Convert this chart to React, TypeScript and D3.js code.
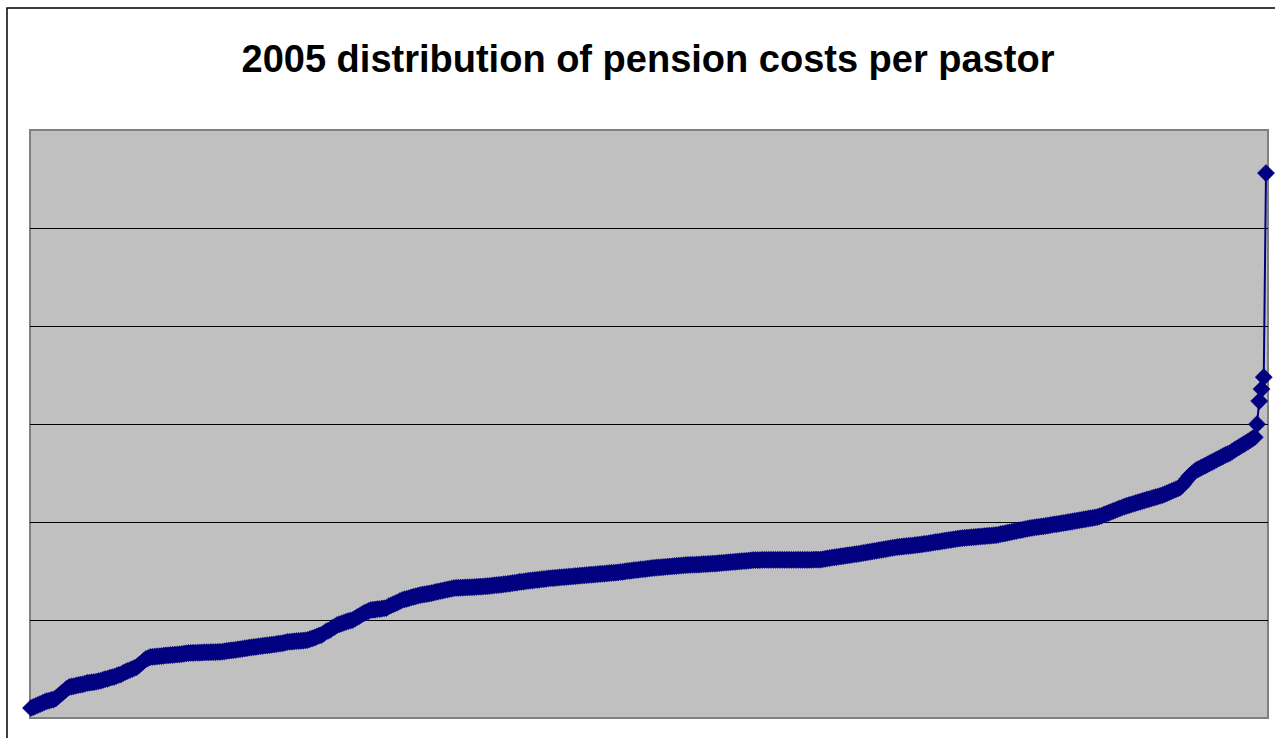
import { useEffect, useRef } from 'react'
import * as d3 from 'd3'

const chartTitle = '2005 distribution of pension costs per pastor'

// annual pension cost per pastor, sorted ascending (one value per pastor)
const pensionCosts = [
  510, 560, 610, 660, 710, 760, 810, 860, 880, 920, 940,
  1000, 1100, 1200, 1300, 1400, 1500, 1580,
  1600, 1620, 1650, 1680, 1700, 1720, 1750, 1790,
  1800, 1820, 1830, 1850, 1880, 1900, 1940,
  1980, 2000, 2050, 2080, 2100, 2150, 2200, 2220,
  2300, 2350, 2400, 2450, 2500, 2550, 2600,
  2700, 2800, 2900, 3000, 3050, 3110,
  3120, 3130, 3140, 3150, 3160, 3180, 3190, 3200, 3210,
  3220, 3230, 3240, 3250, 3260, 3280, 3300, 3310,
  3320, 3320, 3330, 3330, 3340, 3340, 3350, 3350, 3350, 3360, 3360, 3360, 3370, 3370,
  3380, 3400, 3420, 3440, 3450, 3460, 3480, 3500, 3510, 3530, 3550, 3570, 3590, 3600, 3620,
  3630, 3650, 3660, 3680, 3700, 3710, 3720, 3740, 3750, 3770, 3790, 3800, 3820, 3850, 3880,
  3890, 3900, 3910, 3920, 3930, 3940, 3950, 3960, 3980,
  4020, 4060, 4100, 4150, 4200, 4230,
  4300, 4400, 4450, 4500, 4600, 4650, 4740,
  4780, 4820, 4860, 4900, 4940, 4970, 5000,
  5070, 5150, 5200, 5280, 5350, 5400, 5450, 5510,
  5520, 5530, 5550, 5560, 5580, 5600, 5610,
  5700, 5750, 5800, 5850, 5900, 5960, 6020,
  6050, 6080, 6110, 6150, 6180, 6210, 6240, 6270,
  6290, 6310, 6330, 6350, 6370, 6400, 6430,
  6450, 6480, 6500, 6530, 6550, 6580, 6600, 6630,
  6640, 6640, 6650, 6650, 6660, 6660, 6670, 6670, 6680, 6690, 6700, 6700, 6710, 6720, 6730,
  6740, 6750, 6770, 6780, 6790, 6800, 6820, 6830, 6850, 6860, 6880, 6900, 6910, 6940,
  6950, 6960, 6980, 7000, 7010, 7020, 7040, 7050, 7060, 7080, 7090, 7100, 7120, 7130, 7140,
  7150, 7160, 7170, 7180, 7190, 7200, 7210, 7220, 7230, 7240, 7250, 7260, 7270, 7280, 7290,
  7300, 7310, 7320, 7330, 7340, 7350, 7360, 7370, 7380, 7390, 7400, 7410, 7420, 7430, 7450,
  7460, 7480, 7500, 7510, 7520, 7540, 7550, 7560, 7580, 7590, 7600, 7620, 7630, 7650,
  7660, 7670, 7680, 7690, 7700, 7710, 7720, 7730, 7740, 7750, 7760, 7770, 7780, 7790, 7800,
  7810, 7810, 7820, 7820, 7830, 7830, 7840, 7850, 7850, 7860, 7870, 7880, 7880, 7890, 7900,
  7910, 7920, 7930, 7940, 7950, 7960, 7970, 7980, 7990, 8000, 8010, 8020, 8030, 8040, 8060,
  8060, 8060, 8060, 8070, 8070, 8070, 8070, 8070, 8070, 8070, 8070, 8070, 8070, 8070, 8070,
  8070, 8070, 8070, 8070, 8070, 8070, 8070, 8070, 8070, 8070, 8070, 8080, 8080, 8080, 8080,
  8100, 8120, 8140, 8160, 8180, 8200, 8210,
  8230, 8250, 8260, 8280, 8300, 8310, 8330, 8350, 8360, 8380, 8400, 8420,
  8440, 8460, 8480, 8500, 8520, 8540, 8560, 8580, 8600, 8620, 8640, 8660, 8680, 8700, 8720,
  8730, 8740, 8760, 8770, 8780, 8790, 8800, 8820, 8830, 8850, 8860, 8880, 8890, 8910, 8930,
  8950, 8970, 8990, 9000, 9020, 9040, 9060, 9080, 9090, 9110, 9130, 9150, 9160, 9180,
  9190, 9200, 9210, 9220, 9230, 9240, 9250, 9260, 9270, 9280, 9290, 9300, 9310, 9320, 9330,
  9350, 9380, 9400, 9420, 9450, 9470, 9500, 9520, 9540, 9570, 9590, 9610, 9640, 9660, 9690,
  9700, 9720, 9740, 9750, 9770, 9780, 9800, 9820, 9840, 9860, 9880, 9890, 9910, 9930, 9950,
  9970, 9990, 10010, 10030, 10050, 10070, 10090, 10110, 10130, 10150, 10170, 10190, 10210, 10230, 10250,
  10290, 10330, 10380, 10420, 10470, 10510, 10560, 10600, 10650, 10690, 10740, 10780, 10820, 10860,
  10890, 10930, 10960, 11000, 11030, 11070, 11100, 11140, 11170, 11200, 11240, 11270, 11300, 11340, 11370,
  11420, 11470, 11520, 11570, 11620, 11670, 11720, 11780,
  11900, 12050, 12200, 12350, 12450, 12550, 12650,
  12700, 12760, 12820, 12880, 12940, 13000, 13060,
  13120, 13180, 13240, 13300, 13360, 13420, 13470, 13520,
  13600, 13680, 13750, 13820, 13890, 13960, 14030,
  14100, 14180, 14250, 14330,
  14990, 16170, 16780, 17390, 27800,
]

const yDomain = [0, 30000]
const gridValues = [5000, 10000, 15000, 20000, 25000]

export default function App() {
  const svgRef = useRef<SVGSVGElement>(null)

  useEffect(() => {
    if (!svgRef.current) return
    const width = 1275
    const height = 738
    const plot = { left: 30, top: 130, right: 1268, bottom: 718 }

    const svg = d3.select(svgRef.current)
    svg.selectAll('*').remove()
    svg.attr('width', width).attr('height', height)

    // chart frame (runs past the page edges)
    svg.append('rect').attr('x', 7).attr('y', 8).attr('width', 1400).attr('height', 900)
      .attr('fill', '#ffffff').attr('stroke', '#000000').attr('stroke-width', 1.5)

    svg.append('text')
      .attr('x', 648).attr('y', 72)
      .attr('text-anchor', 'middle')
      .attr('font-family', '"Liberation Sans", Arial, sans-serif')
      .attr('font-weight', 'bold').attr('font-size', '38px').attr('fill', '#000')
      .text(chartTitle)

    svg.append('rect')
      .attr('x', plot.left).attr('y', plot.top)
      .attr('width', plot.right - plot.left).attr('height', plot.bottom - plot.top)
      .attr('fill', '#c0c0c0').attr('stroke', '#808080').attr('stroke-width', 2)

    const x = d3.scaleLinear().domain([0, pensionCosts.length - 1]).range([plot.left + 1, plot.right - 2])
    const y = d3.scaleLinear().domain(yDomain).range([plot.bottom, plot.top])

    // horizontal gridlines
    svg.append('g').selectAll('line').data(gridValues).enter().append('line')
      .attr('x1', plot.left).attr('x2', plot.right)
      .attr('y1', d => Math.round(y(d)) + 0.5).attr('y2', d => Math.round(y(d)) + 0.5)
      .attr('stroke', '#000000').attr('stroke-width', 1)

    svg.append('path')
      .datum(pensionCosts)
      .attr('fill', 'none').attr('stroke', '#000080').attr('stroke-width', 2)
      .attr('d', d3.line<number>().x((_, i) => x(i)).y(d => y(d)))

    // diamond markers: squares turned 45°
    const diamond = d3.symbol().type(d3.symbolSquare).size(148)
    svg.append('g').selectAll('path').data(pensionCosts).enter().append('path')
      .attr('d', diamond)
      .attr('transform', (d, i) => `translate(${x(i)},${y(d)}) rotate(45)`)
      .attr('fill', '#000080').attr('stroke', '#000080').attr('stroke-width', 0.5)
  }, [])

  return (
    <svg ref={svgRef} style={{ position: 'absolute', left: 0, top: 0, display: 'block' }} />
  )
}
